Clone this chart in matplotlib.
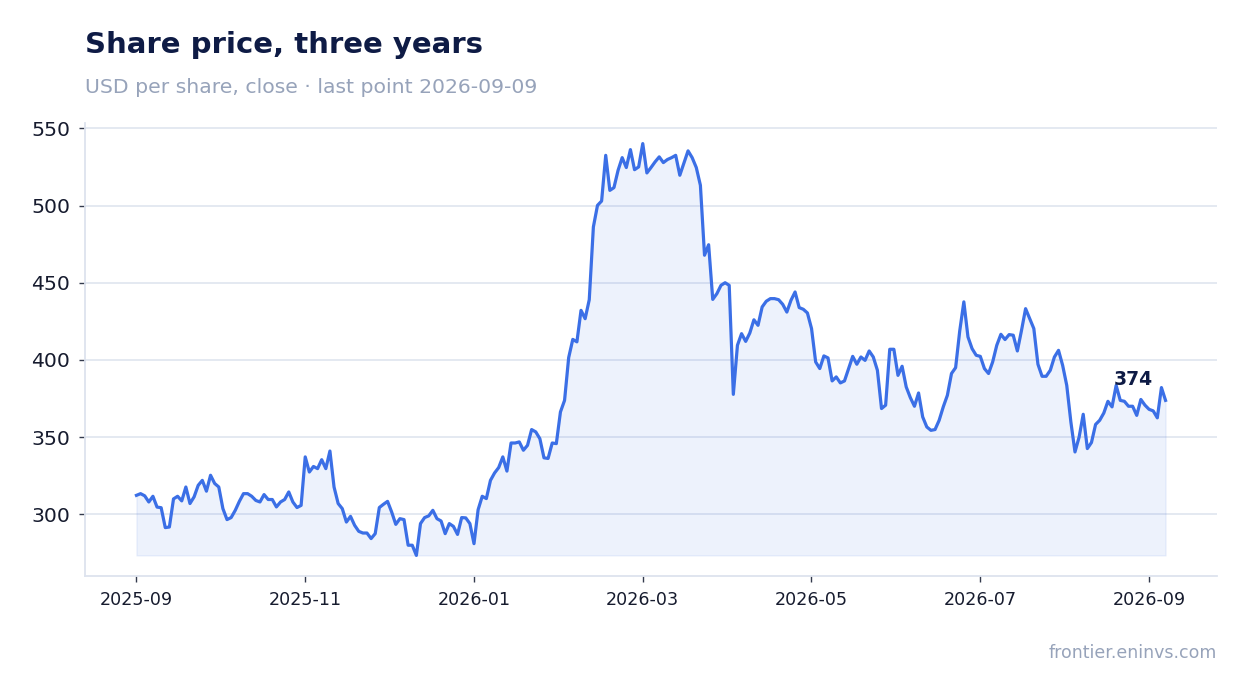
import matplotlib
matplotlib.use("Agg")
import matplotlib.pyplot as plt
from matplotlib.ticker import FixedLocator
import matplotlib.dates as mdates
import pandas as pd

# ---- data ----
start_date = "2025-09-01"
end_date = "2026-09-07"
close = [
    312.3, 313.4, 312.0, 308.0, 311.7, 304.7, 304.3, 291.4, 291.8, 310.0,
    311.7, 308.7, 317.7, 307.0, 311.3, 318.8, 322.0, 315.0, 325.3, 320.0,
    317.7, 303.7, 296.6, 297.9, 302.6, 308.4, 313.4, 313.4, 311.7, 309.0,
    308.0, 312.8, 309.6, 309.6, 304.8, 308.0, 309.6, 314.5, 308.0, 304.4,
    305.8,
    337.2, 327.4, 331.0, 329.6, 335.4, 329.6, 341.0, 317.7, 307.0, 303.7,
    295.0, 298.7, 292.9, 289.0, 287.9, 287.9, 284.3, 287.5, 304.4, 306.5,
    308.4, 301.5, 293.5, 297.2, 296.6, 280.0, 280.0, 273.4, 294.0, 297.9,
    299.0, 302.6, 297.2, 295.7, 287.5, 294.0, 292.2, 287.0, 297.9, 297.7,
    294.0, 281.0,
    303.0, 311.7, 310.2, 322.0, 326.8, 330.3, 337.2, 328.0, 346.2, 346.2,
    346.9, 341.5, 344.7, 354.9, 353.4, 349.0, 336.6, 336.2, 346.2, 345.8,
    366.3, 373.8, 401.5, 413.3, 411.7, 432.1, 426.7, 439.0,
    486.1, 500.1, 502.9, 532.5, 509.8, 511.6, 522.8, 531.0, 524.6, 536.2,
    523.2, 525.0, 540.1, 521.1, 524.6, 528.3, 531.5, 527.8, 529.8, 531.0,
    532.5, 519.6, 527.6, 535.4, 531.0, 524.6, 513.1, 467.8, 474.6,
    439.2, 442.9, 448.3, 450.0, 448.3, 377.7, 409.5, 417.0, 412.0, 417.4,
    426.0, 422.4, 434.3, 438.0, 439.7, 439.7, 439.0, 436.0, 431.0, 438.6,
    444.0, 433.9, 432.8, 430.4, 420.3, 398.7, 394.4, 402.6, 401.3, 386.4,
    389.0, 385.1, 386.4,
    394.4, 402.3, 397.2, 401.9, 399.7, 405.8, 401.9, 393.3, 368.5, 370.7,
    406.9, 406.9, 390.0, 395.9, 382.5, 375.6, 370.0, 378.6, 363.1, 356.6,
    354.4, 354.9, 360.9, 369.6, 377.1, 391.2, 395.0, 418.8, 437.6, 414.9,
    407.3, 403.0, 402.3, 394.4, 391.2,
    398.7, 409.5, 416.6, 413.2, 416.4, 416.0, 405.8, 419.0, 433.2, 426.7,
    420.3, 397.2, 389.4, 389.4, 393.3, 401.9, 406.2, 396.5, 383.5, 359.8,
    340.4, 350.0, 364.8, 342.6, 346.5, 358.2, 360.9, 365.6, 373.2, 369.6,
    383.5, 373.8, 373.2, 370.0, 370.0, 364.1, 374.4, 370.7, 368.0, 367.0,
    362.5, 382.1, 373.8,
]
y_ticks = [300, 350, 400, 450, 500, 550]
x_tick_labels = ["2025-09", "2025-11", "2026-01", "2026-03",
                 "2026-05", "2026-07", "2026-09"]
x_tick_first, x_tick_last = "2025-09-01", "2026-09-01"

title = "Share price, three years"
subtitle = "USD per share, close \u00b7 last point 2026-09-09"
footer = "frontier.eninvs.com"

dates = pd.date_range(start_date, end_date, periods=len(close))
x_tick_pos = pd.date_range(x_tick_first, x_tick_last, periods=len(x_tick_labels))

# ---- styling ----
LINE = "#3b6fe6"
NAVY = "#0e1b45"
GREY = "#97a3ba"
GRID = "#e2e7f0"
SPINE = "#dde3ee"
TICKTXT = "#161b2e"

W, H = 1247, 693
fig = plt.figure(figsize=(W / 100, H / 100), dpi=100)
ax = fig.add_axes([85 / W, 1 - 576 / H, (1217 - 85) / W, (576 - 123) / H])

ax.fill_between(dates, close, min(close), color=LINE, alpha=0.09, linewidth=1)
ax.plot(dates, close, color=LINE, linewidth=2.3, solid_joinstyle="round")

ax.set_yticks(y_ticks)
ax.xaxis.set_major_locator(FixedLocator(mdates.date2num(x_tick_pos)))
ax.set_xticklabels(x_tick_labels)

ax.grid(axis="y", color=GRID, linewidth=1.3)
ax.grid(axis="x", visible=False)
ax.set_axisbelow(True)
for s in ("top", "right"):
    ax.spines[s].set_visible(False)
for s in ("left", "bottom"):
    ax.spines[s].set_color(SPINE)
    ax.spines[s].set_linewidth(1.3)

ax.tick_params(axis="y", labelsize=14.7, labelcolor=TICKTXT, length=4, width=1, pad=6.8)
ax.tick_params(axis="x", labelsize=12.6, labelcolor=TICKTXT, length=4, width=1, pad=7)
ax.tick_params(axis="both", color="#333a4d")

# last value label
ax.annotate(f"{close[-1]:.0f}", xy=(dates[-1], close[-1]), xytext=(-9.5, 10.8),
            textcoords="offset points", ha="right", va="baseline",
            fontsize=13.5, fontweight="bold", color=NAVY)

fig.text(85 / W, 1 - 53.3 / H, title, fontsize=21, fontweight="bold",
         color=NAVY, va="baseline", ha="left")
fig.text(85 / W, 1 - 93.3 / H, subtitle, fontsize=14.7, color=GREY,
         va="baseline", ha="left")
fig.text(1217 / W, 1 - 658 / H, footer, fontsize=12.5, color=GREY,
         va="baseline", ha="right")

fig.savefig("out.png", dpi=100)
